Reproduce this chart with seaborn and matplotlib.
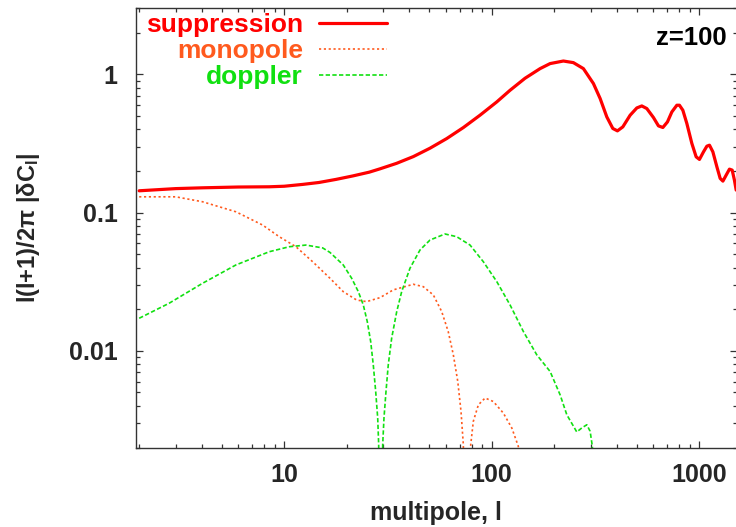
import matplotlib
matplotlib.use("Agg")
import matplotlib.pyplot as plt
import seaborn as sns
import pandas as pd
from matplotlib.ticker import LogLocator, FuncFormatter, NullFormatter

# ---- data ----
sup_l = [2.0, 3.0, 4.04, 6.0, 8.47, 10.0, 12.27, 14.7, 17.76, 21.4, 25.7, 28.9, 34.8,
         41.9, 50.4, 60.7, 73.0, 87.8, 105.7, 122.5, 144.7, 171.0, 191.1, 221.4, 247.4,
         276.5, 309.0, 332.9, 358.5, 383.2, 403.3, 428.2, 464.4, 500.1, 528.6, 558.8,
         601.5, 635.9, 667.7, 702.6, 737.8, 779.8, 802.6, 833.5, 871.3, 921.1, 966.1,
         1002, 1048, 1088, 1120, 1163, 1216, 1261, 1300, 1348, 1398, 1441, 1477, 1506]
sup_v = [0.1437, 0.149, 0.151, 0.153, 0.1536, 0.155, 0.1598, 0.165, 0.1737, 0.184,
         0.196, 0.207, 0.227, 0.254, 0.292, 0.343, 0.412, 0.506, 0.631, 0.766, 0.936,
         1.099, 1.195, 1.247, 1.214, 1.099, 0.857, 0.668, 0.4916, 0.4055, 0.3897, 0.4165,
         0.5058, 0.5709, 0.5903, 0.5652, 0.4867, 0.4234, 0.4123, 0.4524, 0.5343, 0.5973,
         0.5973, 0.5496, 0.4406, 0.3160, 0.2529, 0.2422, 0.2748, 0.3020, 0.3071, 0.2748,
         0.2141, 0.1766, 0.1688, 0.1866, 0.2061, 0.2027, 0.1717, 0.1454]

mono_l = [2.0, 3.0, 4.04, 5.85, 7.87, 9.46, 11.39, 13.71, 16.61, 19.25, 22.34, 24.96,
          28.94, 33.54, 41.88, 46.8, 52.3, 57.4, 61.7, 65.3, 68.6, 71.1, 72.96, 76.0,
          79.2, 81.5, 86.2, 92.9, 101.8, 113.7, 124.9, 134.3, 140.0]
mono_v = [0.130, 0.130, 0.1197, 0.1013, 0.0812, 0.0669, 0.0566, 0.0441, 0.0335, 0.0268,
          0.0233, 0.0227, 0.02425, 0.0276, 0.0303, 0.0291, 0.02537, 0.01922, 0.01378,
          0.00936, 0.0060, 0.00365, 0.0021, 1e-5, 0.0021, 0.00309, 0.00407, 0.00456,
          0.0043, 0.00355, 0.00277, 0.00204, 1e-5]

dop_l = [2.0, 2.79, 4.04, 5.85, 8.47, 10.57, 12.72, 15.32, 16.61, 19.25, 21.13, 22.75,
         24.04, 25.13, 26.1, 26.86, 27.59, 28.21, 28.52, 29.16, 29.82, 30.25, 30.93,
         31.72, 32.94, 34.84, 36.81, 40.37, 45.1, 50.4, 59.55, 67.8, 78.6, 91.1, 105.7,
         122.5, 142.1, 164.8, 191.1, 213.5, 230.0, 256.9, 271.6, 287.1, 297.9, 305.5,
         310.0]
dop_v = [0.0172, 0.0221, 0.0308, 0.0418, 0.0521, 0.0566, 0.0582, 0.0555, 0.0515, 0.0418,
         0.0335, 0.0268, 0.0215, 0.01628, 0.01167, 0.00792, 0.00508, 0.00327, 0.0021,
         1e-5, 0.0021, 0.00327, 0.00508, 0.00792, 0.01235, 0.01922, 0.0268, 0.0396,
         0.0536, 0.0633, 0.0700, 0.0669, 0.0582, 0.0441, 0.0317, 0.0215, 0.01378,
         0.00936, 0.00709, 0.00481, 0.00345, 0.00259, 0.00277, 0.00292, 0.00262,
         0.00203, 1e-5]

labels = ["suppression", "monopole", "doppler"]
colors = ["#ff0000", "#ff5a1e", "#11e011"]

# ---- style ----
sns.set_theme(style="ticks")
plt.rcParams["font.family"] = ["Liberation Sans", "DejaVu Sans"]
plt.rcParams["font.weight"] = "bold"
plt.rcParams["axes.labelweight"] = "bold"
plt.rcParams["mathtext.fontset"] = "custom"
plt.rcParams["mathtext.rm"] = "Liberation Sans:bold"
plt.rcParams["mathtext.bf"] = "Liberation Sans:bold"
plt.rcParams["mathtext.it"] = "Liberation Sans:bold"

fig = plt.figure(figsize=(7.36, 5.27), dpi=100)
ax = fig.add_axes([135.5 / 736, 1 - 447.5 / 527, 601.5 / 736, 439.2 / 527])

df_s = pd.DataFrame({"l": sup_l, "v": sup_v})
df_m = pd.DataFrame({"l": mono_l, "v": mono_v})
df_d = pd.DataFrame({"l": dop_l, "v": dop_v})

sns.lineplot(data=df_s, x="l", y="v", ax=ax, color=colors[0], lw=2.3,
             estimator=None, sort=False, label=labels[0])
sns.lineplot(data=df_m, x="l", y="v", ax=ax, color=colors[1], lw=1.2,
             linestyle=(0, (1.3, 1.6)), estimator=None, sort=False, label=labels[1])
sns.lineplot(data=df_d, x="l", y="v", ax=ax, color=colors[2], lw=1.2,
             linestyle=(0, (2.6, 1.4)), estimator=None, sort=False, label=labels[2])

ax.set_xscale("log")
ax.set_yscale("log")
ax.set_xlim(1.92, 1520)
ax.set_ylim(0.002, 3.0)

fmt = FuncFormatter(lambda v, _: f"{v:g}")
ax.xaxis.set_major_locator(LogLocator(base=10))
ax.yaxis.set_major_locator(LogLocator(base=10))
ax.xaxis.set_minor_locator(LogLocator(base=10, subs=range(2, 10)))
ax.yaxis.set_minor_locator(LogLocator(base=10, subs=range(2, 10)))
ax.xaxis.set_major_formatter(fmt)
ax.yaxis.set_major_formatter(fmt)
ax.xaxis.set_minor_formatter(NullFormatter())
ax.yaxis.set_minor_formatter(NullFormatter())

ax.tick_params(which="both", direction="in", top=True, right=True,
               color="#333333", width=0.9)
ax.tick_params(which="major", length=5, labelsize=18)
ax.tick_params(which="minor", length=3)
ax.tick_params(axis="y", which="major", pad=13)
ax.tick_params(axis="x", which="major", pad=11)
for s in ax.spines.values():
    s.set_color("#333333")
    s.set_linewidth(1.0)

ax.set_xlabel("multipole, l", fontsize=18, labelpad=10)
ax.set_ylabel(r"l(l+1)/2π |δC$_\mathbf{l}$|", fontsize=17)
ax.yaxis.set_label_coords(-0.155, 0.5)

ax.text(0.982, 0.932, "z=100", transform=ax.transAxes, ha="right", va="center",
        fontsize=18.5, fontweight="bold", color="black")

leg = ax.legend(loc="upper right", bbox_to_anchor=(0.4233, 0.995), frameon=False,
                markerfirst=False, fontsize=19, handlelength=2.6, handletextpad=0.6,
                labelspacing=0.07, borderpad=0.1, borderaxespad=0)
for t, c in zip(leg.get_texts(), colors):
    t.set_color(c)
    t.set_fontweight("bold")

fig.savefig("out.png", dpi=100)
